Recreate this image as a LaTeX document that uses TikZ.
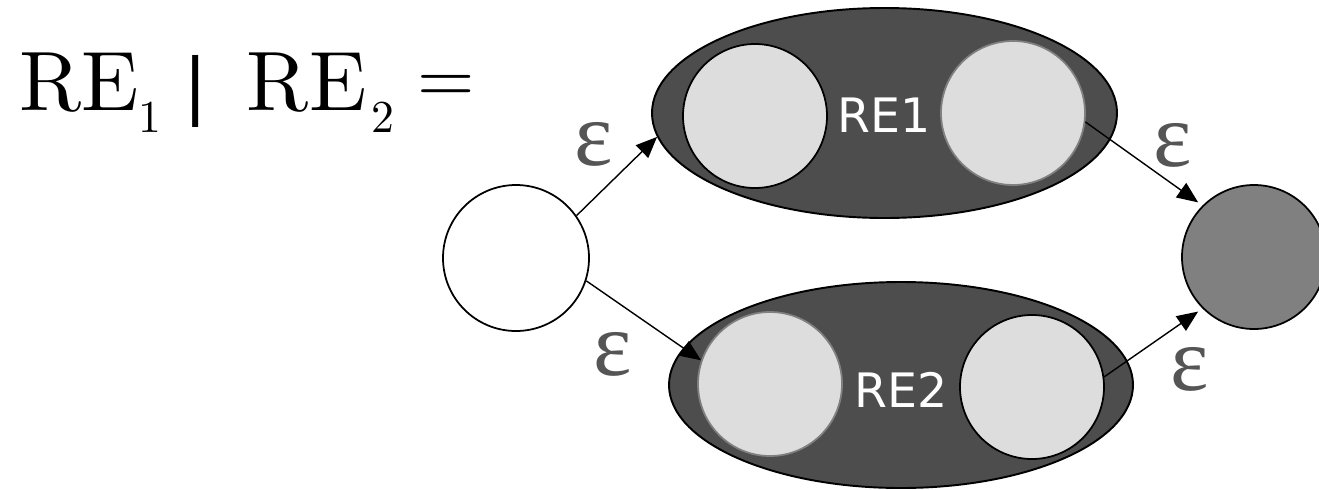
\documentclass[tikz,border=0pt]{standalone}
\usepackage{fontspec}
\usepackage{tikz}
\usepackage{xcolor}
\usetikzlibrary{shapes.geometric,arrows.meta}
\newfontfamily\labelfont{DejaVu Sans}
\newfontfamily\epsfont{Liberation Serif}
\newfontfamily\titlefont{lmroman10-regular.otf}
\definecolor{machinegray}{RGB}{77,77,77}
\definecolor{stategray}{RGB}{221,221,221}
\definecolor{acceptgray}{RGB}{128,128,128}
\definecolor{epsgray}{RGB}{85,85,85}
% lowered index digit of the title
\newcommand{\reidx}[1]{\raisebox{-0.44cm}{\fontsize{26}{30}\selectfont #1}}

\begin{document}
\begin{tikzpicture}[
    machine/.style={ellipse, draw=black, line width=1.1pt, fill=machinegray, inner sep=0pt},
    state/.style={circle, draw=black, line width=1pt, fill=stategray, inner sep=0pt, minimum size=2.88cm},
    edge/.style={line width=0.8pt, -{Triangle[length=12pt,width=10pt]}},
    eps/.style={epsgray, inner sep=0pt, font=\epsfont\fontsize{52}{60}\selectfont}
]
    \useasboundingbox (0,0) rectangle (26.38,-9.78);

    % Union of two expressions
    \node[anchor=base west, inner sep=0pt, font=\titlefont\fontsize{48}{58}\selectfont] (title) at (0.38,-2.2)
        {RE\reidx{1}\hspace{0.44cm}{\labelfont\fontsize{41}{50}\selectfont|}\hspace{0.78cm}RE\hspace{0.09cm}\reidx{2}\hspace{0.48cm}\raisebox{0.16cm}{\fontsize{42}{50}\selectfont =}};

    % New start state
    \node[circle, draw=black, line width=1pt, fill=white, minimum size=2.92cm] (start) at (10.32,-5.16) {};

    % First machine
    \node[machine, minimum width=9.3cm, minimum height=4.2cm] (re1) at (17.69,-2.26) {};
    \node[state] (a1) at (15.1,-2.32) {};
    \node[state, draw=acceptgray] (a2) at (20.26,-2.26) {};
    \node[white, font=\labelfont\fontsize{27}{32}\selectfont] (re1lbl) at (17.69,-2.3) {RE1};

    % Second machine
    \node[machine, minimum width=9.28cm, minimum height=4.12cm] (re2) at (18.02,-7.7) {};
    \node[state, draw=acceptgray] (b1) at (15.4,-7.68) {};
    \node[state] (b2) at (20.64,-7.74) {};
    \node[white, font=\labelfont\fontsize{27}{32}\selectfont] (re2lbl) at (18.02,-7.8) {RE2};

    % New accept state
    \node[state, fill=acceptgray] (fin) at (25.08,-5.14) {};

    % Epsilon moves
    \draw[edge] (start.35) -- (re1.186);
    \draw[edge] (start.-18) -- (b1.161);
    \draw[edge, shorten >=3pt] (a2.-7) -- (fin.135);
    \draw[edge, shorten >=3pt] (b2.8) -- (fin.225);

    \node[eps] (e1) at (11.88,-2.88) {ε};
    \node[eps] (e2) at (12.26,-7.08) {ε};
    \node[eps] (e3) at (23.46,-2.9) {ε};
    \node[eps] (e4) at (23.8,-7.38) {ε};
\end{tikzpicture}
\end{document}
